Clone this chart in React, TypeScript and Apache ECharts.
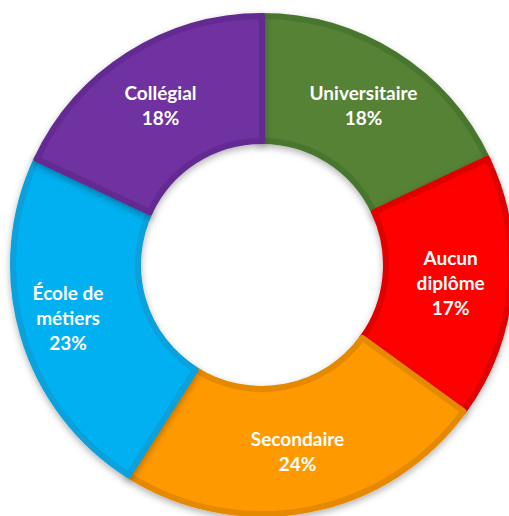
import React, { useEffect, useRef } from "react";
import * as echarts from "echarts";

const categories = ["Universitaire", "Aucun diplôme", "Secondaire", "École de métiers", "Collégial"];
const values = [18, 17, 24, 23, 18];
const fillColors = ["#548235", "#FF0000", "#FF9900", "#00B0F0", "#7030A0"];
const edgeColors = ["#4A762D", "#E00000", "#E58A00", "#07A0DA", "#642A92"];

function wrapName(name: string): string {
  const i = name.lastIndexOf(" ");
  return i > 0 ? name.slice(0, i) + "\n" + name.slice(i + 1) : name;
}

export default function App() {
  const ref = useRef<HTMLDivElement>(null);
  useEffect(() => {
    if (!ref.current) return;
    const chart = echarts.init(ref.current, undefined, { renderer: "svg" });
    chart.setOption({
      animation: false,
      backgroundColor: "#ffffff",
      series: [
        {
          type: "pie",
          center: [262, 265],
          radius: [124, 249],
          startAngle: 90,
          clockwise: true,
          avoidLabelOverlap: false,
          label: {
            show: true,
            position: "inside",
            color: "#ffffff",
            fontFamily: "Lato",
            fontWeight: "bold",
            fontSize: 19,
            lineHeight: 25,
            align: "center",
            formatter: (p: any) => `${wrapName(p.name)}\n${p.value}%`,
          },
          labelLine: { show: false },
          emphasis: { disabled: true },
          data: categories.map((name, i) => ({
            name,
            value: values[i],
            itemStyle: {
              color: fillColors[i],
              borderColor: edgeColors[i],
              borderWidth: 6,
              shadowBlur: 7,
              shadowOffsetY: 3,
              shadowColor: "rgba(0,0,0,0.3)",
            },
            label: name === "École de métiers" ? { padding: [0, 24, 0, 0] } : undefined,
          })),
        },
      ],
    });
    return () => chart.dispose();
  }, []);
  return (
    <div
      ref={ref}
      style={{ position: "fixed", left: 0, top: 0, width: 509, height: 516 }}
    />
  );
}
